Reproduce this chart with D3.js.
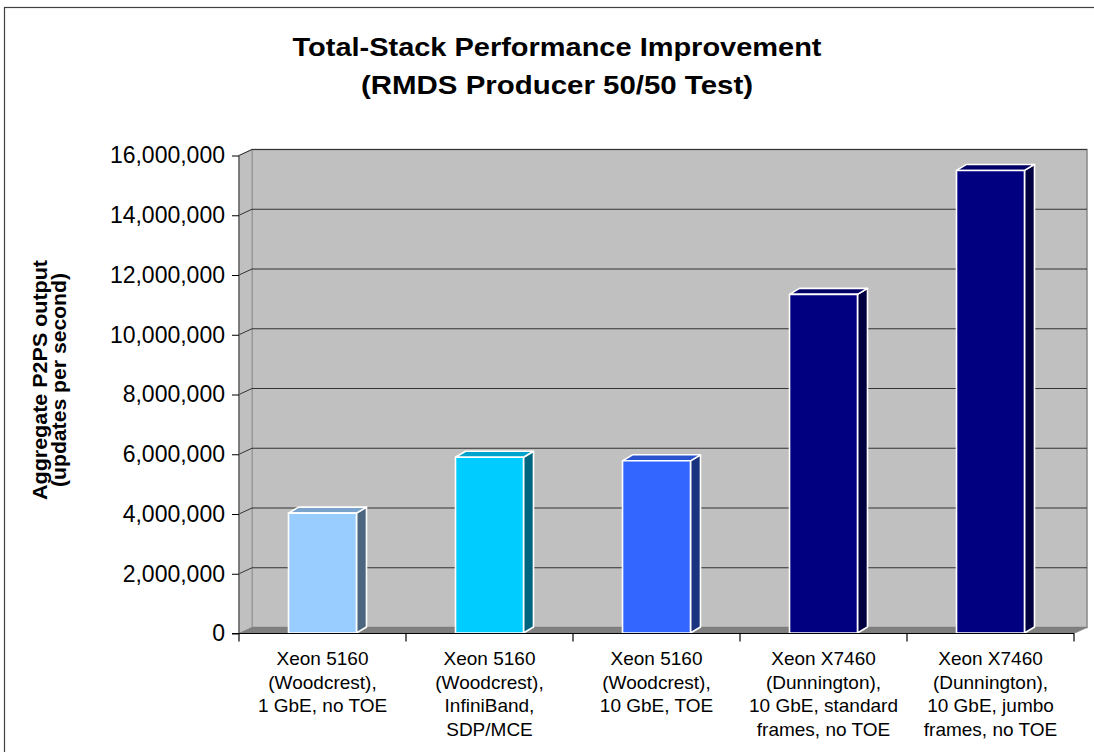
<!DOCTYPE html>
<html lang="en">
<head>
<meta charset="UTF-8">
<title>Total-Stack Performance Improvement</title>
<script src="https://cdn.jsdelivr.net/npm/d3@7"></script>
<style>
  body { margin: 0; background: #fff; }
  svg text { font-family: "Liberation Sans", Arial, sans-serif; fill: #000; }
</style>
</head>
<body>
<script>
// chart data
var categories = [
  ["Xeon 5160", "(Woodcrest),", "1 GbE, no TOE"],
  ["Xeon 5160", "(Woodcrest),", "InfiniBand,", "SDP/MCE"],
  ["Xeon 5160", "(Woodcrest),", "10 GbE, TOE"],
  ["Xeon X7460", "(Dunnington),", "10 GbE, standard", "frames, no TOE"],
  ["Xeon X7460", "(Dunnington),", "10 GbE, jumbo", "frames, no TOE"]
];
var values = [4030000, 5900000, 5780000, 11350000, 15500000];
var yTicks = [0, 2000000, 4000000, 6000000, 8000000, 10000000, 12000000, 14000000, 16000000];
var barColors = ["#99CCFF", "#00CCFF", "#3366FF", "#000080", "#000080"];
var titleLines = ["Total-Stack Performance Improvement", "(RMDS Producer 50/50 Test)"];
var yTitleLines = ["Aggregate P2PS output", "(updates per second)"];

var w = 1094, h = 752;
var plotL = 239, plotR = 1074, plotT = 155.5, plotB = 633.5;
var wallDx = 13, wallDy = -6;   // depth of the back wall
var barDx = 10, barDy = -6;     // depth of each bar

var svg = d3.select("body").append("svg")
  .attr("width", w).attr("height", h);

var y = d3.scaleLinear().domain([0, 16000000]).range([plotB, plotT]);
var x = d3.scaleBand()
  .domain(d3.range(categories.length))
  .range([plotL, plotR])
  .paddingInner(0.593)
  .paddingOuter(0.2965);

// outer frame
svg.append("rect")
  .attr("x", 4.5).attr("y", 7.5)
  .attr("width", 1094).attr("height", 800)
  .attr("fill", "#fff").attr("stroke", "#404040").attr("stroke-width", 1.2);

// title (the original's text runs a bit wider than Liberation Sans)
var titleWidths = [529, 392];
svg.selectAll("text.title")
  .data(titleLines)
  .enter().append("text")
  .attr("class", "title")
  .attr("x", 557)
  .attr("y", function(d, i) { return 56 + i * 38; })
  .attr("text-anchor", "middle")
  .attr("textLength", function(d, i) { return titleWidths[i]; })
  .attr("lengthAdjust", "spacingAndGlyphs")
  .style("font-size", "26px")
  .style("font-weight", "bold")
  .text(function(d) { return d; });

// back wall
var g = svg.append("g");
g.append("rect")
  .attr("x", plotL + wallDx).attr("y", plotT + wallDy)
  .attr("width", plotR - plotL).attr("height", plotB - plotT)
  .attr("fill", "#c0c0c0").attr("stroke", "#888").attr("stroke-width", 1.5);

// left wall
g.append("polygon")
  .attr("points", [[plotL, plotT], [plotL + wallDx, plotT + wallDy], [plotL + wallDx, plotB + wallDy], [plotL, plotB]].join(" "))
  .attr("fill", "#c0c0c0").attr("stroke", "#999").attr("stroke-width", 1);

// gridlines on back wall and side wall
yTicks.forEach(function(t) {
  if (t === 0) return;
  g.append("line")
    .attr("x1", plotL + wallDx).attr("x2", plotR + wallDx)
    .attr("y1", y(t) + wallDy).attr("y2", y(t) + wallDy)
    .attr("stroke", "#333").attr("stroke-width", 1);
  g.append("line")
    .attr("x1", plotL).attr("x2", plotL + wallDx)
    .attr("y1", y(t)).attr("y2", y(t) + wallDy)
    .attr("stroke", "#333").attr("stroke-width", 1);
});

// floor
g.append("polygon")
  .attr("points", [[plotL, plotB], [plotR, plotB], [plotR + wallDx, plotB + wallDy], [plotL + wallDx, plotB + wallDy]].join(" "))
  .attr("fill", "#808080").attr("stroke", "#777").attr("stroke-width", 0.5);

// bars
var bars = svg.selectAll("g.bar")
  .data(values)
  .enter().append("g")
  .attr("class", "bar");

function shade(c, k) {
  var r = d3.rgb(c);
  return d3.rgb(r.r * k, r.g * k, r.b * k).toString();
}

bars.each(function(v, i) {
  var b = d3.select(this);
  var x0 = x(i), x1 = x(i) + x.bandwidth();
  var yt = y(v), yb = y(0) - 0.5;
  b.append("polygon")
    .attr("points", [[x1, yt], [x1 + barDx, yt + barDy], [x1 + barDx, yb + barDy], [x1, yb]].join(" "))
    .attr("fill", shade(barColors[i], 0.5));
  b.append("polygon")
    .attr("points", [[x0, yt], [x0 + barDx, yt + barDy], [x1 + barDx, yt + barDy], [x1, yt]].join(" "))
    .attr("fill", shade(barColors[i], 0.8));
  b.append("rect")
    .attr("x", x0).attr("y", yt)
    .attr("width", x.bandwidth()).attr("height", yb - yt)
    .attr("fill", barColors[i]);
  b.selectAll("*")
    .attr("stroke", "#fff").attr("stroke-width", 1.6).attr("stroke-linejoin", "round");
});

// y axis
svg.append("line")
  .attr("x1", plotL).attr("x2", plotL)
  .attr("y1", plotT).attr("y2", plotB)
  .attr("stroke", "#666").attr("stroke-width", 1.5);

var yAxis = d3.axisLeft(y)
  .tickValues(yTicks)
  .tickSize(7)
  .tickPadding(7)
  .tickFormat(d3.format(","));

var ya = svg.append("g")
  .attr("transform", "translate(" + plotL + ",0)")
  .call(yAxis);
ya.select(".domain").remove();
ya.selectAll(".tick line").attr("stroke", "#000");
ya.selectAll(".tick text")
  .style("font-size", "23px")
  .style("font-family", "'Liberation Sans', Arial, sans-serif");

// x axis
svg.append("line")
  .attr("x1", plotL - 7).attr("x2", plotR)
  .attr("y1", plotB).attr("y2", plotB)
  .attr("stroke", "#000").attr("stroke-width", 1.2);

var gap = (x.step() - x.bandwidth()) / 2;
var bounds = d3.range(categories.length).map(function(i) { return x(i) - gap; });
bounds.push(plotR);
bounds.forEach(function(bx) {
  svg.append("line")
    .attr("x1", bx).attr("x2", bx)
    .attr("y1", plotB).attr("y2", plotB + 8)
    .attr("stroke", "#000").attr("stroke-width", 1.2);
});

categories.forEach(function(lines, i) {
  var t = svg.append("text")
    .attr("text-anchor", "middle")
    .style("font-size", "19px");
  lines.forEach(function(s, j) {
    t.append("tspan")
      .attr("x", x(i) + x.bandwidth() / 2)
      .attr("y", 665 + j * 23.5)
      .text(s);
  });
});

// y axis title
var yTitleWidths = [240, 214];
svg.selectAll("text.ytitle")
  .data(yTitleLines)
  .enter().append("text")
  .attr("class", "ytitle")
  .attr("transform", function(d, i) { return "translate(" + (47 + i * 19) + ",380) rotate(-90)"; })
  .attr("text-anchor", "middle")
  .attr("textLength", function(d, i) { return yTitleWidths[i]; })
  .attr("lengthAdjust", "spacingAndGlyphs")
  .style("font-size", "20px")
  .style("font-weight", "bold")
  .text(function(d) { return d; });
</script>
</body>
</html>
